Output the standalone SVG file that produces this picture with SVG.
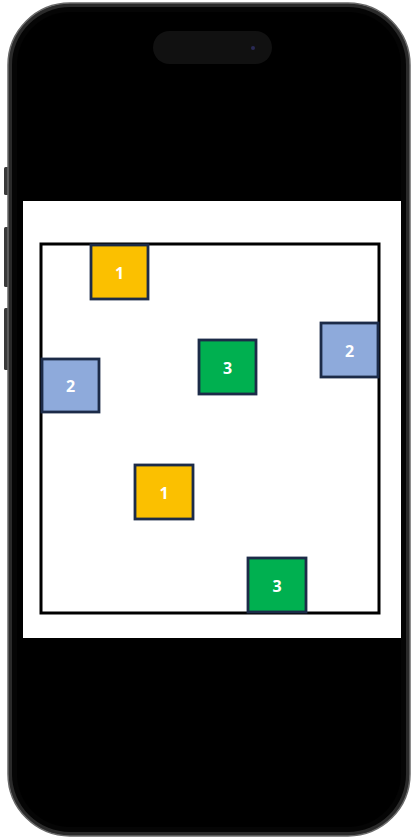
<svg xmlns="http://www.w3.org/2000/svg" width="411" height="838" viewBox="0 0 411 838">
<style>
.sq{stroke:#1c2b48;stroke-width:2.8}
.y{fill:#fbc000}.b{fill:#8eaadb}.g{fill:#00b050}
.t{font-family:"Open Sans","Liberation Sans",sans-serif;font-weight:bold;font-size:16px;fill:#fff;text-anchor:middle;dominant-baseline:central}
</style>
<g id="phone">
<rect x="4" y="167" width="5" height="28" rx="1.5" fill="#3a3a3a"/>
<rect x="4" y="227" width="5" height="60" rx="1.5" fill="#3a3a3a"/>
<rect x="4" y="308" width="5" height="62" rx="1.5" fill="#3a3a3a"/>
<rect x="8" y="3" width="402" height="833" rx="62" fill="#2a2a2a" stroke="#6a6a6a" stroke-width="1.5"/>
<rect x="12" y="7" width="394" height="825" rx="58" fill="#050505"/>
<rect x="17" y="12" width="384" height="815" rx="53" fill="#000"/>
<rect x="153" y="31" width="119" height="33" rx="16.5" fill="#111"/>
<circle cx="253" cy="48" r="2" fill="#2a2a55"/>
</g>
<g id="screen">
<rect x="23" y="201" width="378" height="437" fill="#fff"/>
<rect x="41" y="244" width="338" height="369" fill="none" stroke="#000" stroke-width="3"/>
</g>
<g id="n1a"><rect class="sq y" x="91" y="245" width="57" height="54"/><text class="t" x="119.5" y="273">1</text></g>
<g id="n2r"><rect class="sq b" x="321" y="323" width="57" height="54"/><text class="t" x="349.5" y="351">2</text></g>
<g id="n3a"><rect class="sq g" x="199" y="340" width="57" height="54"/><text class="t" x="227.5" y="368">3</text></g>
<g id="n2l"><rect class="sq b" x="42" y="359" width="57" height="53"/><text class="t" x="70.5" y="386">2</text></g>
<g id="n1b"><rect class="sq y" x="135" y="465" width="58" height="54"/><text class="t" x="164" y="493">1</text></g>
<g id="n3b"><rect class="sq g" x="248" y="558" width="58" height="54"/><text class="t" x="277" y="586">3</text></g>
<g id="connectors"/>
</svg>
